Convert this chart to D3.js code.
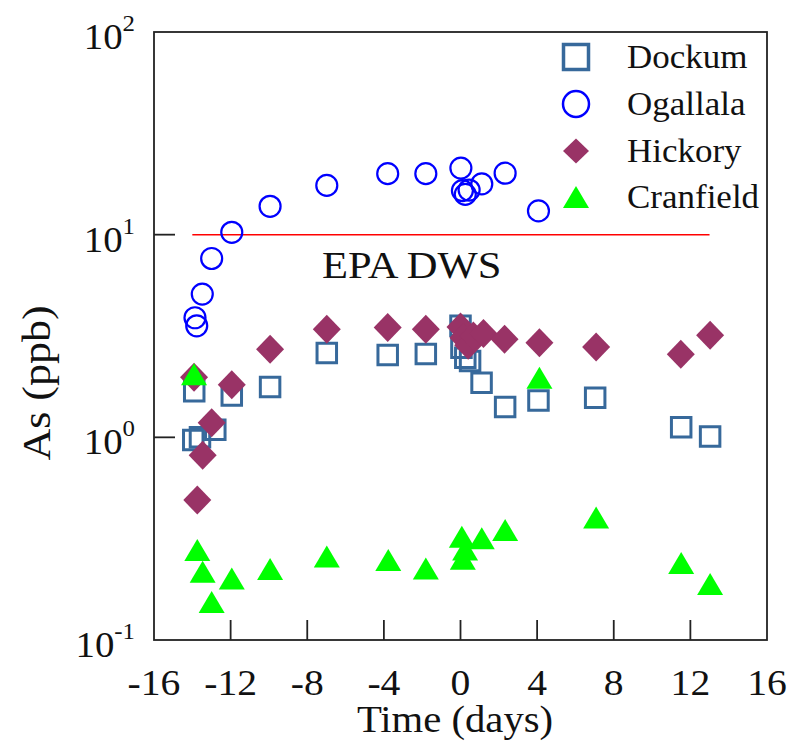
<!DOCTYPE html>
<html>
<head>
<meta charset="utf-8">
<script src="https://cdn.jsdelivr.net/npm/d3@7"></script>
<style>
  html, body { margin: 0; padding: 0; background: #fff; }
  svg text { font-family: "Liberation Serif", "Times New Roman", serif; fill: #111; }
</style>
</head>
<body>
<svg id="chart" width="787" height="749"></svg>
<script>
// ---- data ----
const seriesNames = ["Dockum", "Ogallala", "Hickory", "Cranfield"];

const dockumT = [-13.9, -13.95, -13.6, -12.8, -11.94, -9.94, -6.98, -3.8, -1.81, 0.0, 0.05, 0.25, 0.5, 1.1, 2.33, 4.07, 7.03, 11.52, 13.03];
const dockumAs = [1.69, 0.97, 1.0, 1.09, 1.61, 1.77, 2.61, 2.55, 2.58, 3.55, 2.77, 2.47, 2.38, 1.86, 1.41, 1.52, 1.57, 1.12, 1.01];

const ogallalaT = [-13.86, -13.77, -13.48, -12.99, -11.94, -9.94, -6.98, -3.8, -1.81, 0.02, 0.1, 0.25, 0.45, 1.11, 2.33, 4.07];
const ogallalaAs = [3.89, 3.55, 5.09, 7.63, 10.27, 13.8, 17.5, 20.0, 20.0, 21.3, 16.5, 15.8, 16.6, 17.8, 20.1, 13.1];

const hickoryT = [-13.91, -13.74, -13.46, -12.99, -11.94, -9.94, -6.98, -3.8, -1.81, 0.0, 0.15, 0.4, 0.67, 1.2, 2.3, 4.12, 7.08, 11.5, 13.03];
const hickoryAs = [1.98, 0.49, 0.815, 1.18, 1.82, 2.72, 3.41, 3.48, 3.41, 3.5, 3.1, 2.85, 3.16, 3.25, 3.05, 2.93, 2.79, 2.57, 3.19];

const cranfieldT = [-13.91, -13.74, -13.46, -12.99, -11.94, -9.94, -6.98, -3.77, -1.81, 0.07, 0.24, 0.12, 1.11, 2.33, 4.12, 7.08, 11.52, 13.03];
const cranfieldAs = [2.05, 0.278, 0.217, 0.154, 0.201, 0.224, 0.258, 0.248, 0.225, 0.323, 0.28, 0.252, 0.318, 0.349, 1.97, 0.402, 0.24, 0.189];

const epaLimit = 10;
const epaRange = [-14, 13];
const epaLabel = "EPA DWS";

const xTicks = [-16, -12, -8, -4, 0, 4, 8, 12, 16];
const yTicks = [0.1, 1, 10, 100];
const yTickExp = ["-1", "0", "1", "2"];
const xTitle = "Time (days)";
const yTitle = "As (ppb)";

// ---- layout ----
const svg = d3.select("#chart");
const L = 154, R = 767, T = 32, B = 640;
const x = d3.scaleLinear().domain([-16, 16]).range([L, R]);
const y = d3.scaleLog().domain([0.1, 100]).range([B, T]);

function stretchText(g, px, py, str, size, anchor, sx) {
  return g.append("text")
    .attr("transform", `translate(${px},${py}) scale(${sx},1)`)
    .attr("text-anchor", anchor)
    .attr("font-size", size)
    .text(str);
}

// EPA line
svg.append("line")
  .attr("x1", x(epaRange[0])).attr("x2", x(epaRange[1]))
  .attr("y1", y(epaLimit)).attr("y2", y(epaLimit))
  .attr("stroke", "#ff0000").attr("stroke-width", 1.5);
stretchText(svg, x(-2.55), y(epaLimit) + 43, epaLabel, 38, "middle", 1.12);

// ---- marks ----
const sqColor = "#37699b", cirColor = "#0000ff", diaColor = "#993366", triColor = "#00ff00";

function squarePath(s) { const h = s / 2; return `M${-h},${-h}H${h}V${h}H${-h}Z`; }
function diamondPath(w, h) { return `M0,${-h/2}L${w/2},0L0,${h/2}L${-w/2},0Z`; }
function trianglePath(w, h) { return `M0,${-h/2}L${w/2},${h/2}L${-w/2},${h/2}Z`; }

const plot = svg.append("g");

plot.append("g").selectAll("path")
  .data(d3.zip(dockumT, dockumAs)).join("path")
  .attr("transform", d => `translate(${x(d[0])},${y(d[1])})`)
  .attr("d", squarePath(19.5))
  .attr("fill", "none").attr("stroke", sqColor).attr("stroke-width", 3);

plot.append("g").selectAll("circle")
  .data(d3.zip(ogallalaT, ogallalaAs)).join("circle")
  .attr("cx", d => x(d[0])).attr("cy", d => y(d[1])).attr("r", 10.5)
  .attr("fill", "none").attr("stroke", cirColor).attr("stroke-width", 2.2);

plot.append("g").selectAll("path")
  .data(d3.zip(hickoryT, hickoryAs)).join("path")
  .attr("transform", d => `translate(${x(d[0])},${y(d[1])})`)
  .attr("d", diamondPath(28, 29))
  .attr("fill", diaColor);

plot.append("g").selectAll("path")
  .data(d3.zip(cranfieldT, cranfieldAs)).join("path")
  .attr("transform", d => `translate(${x(d[0])},${y(d[1])})`)
  .attr("d", trianglePath(26, 22))
  .attr("fill", triColor);

// ---- frame & ticks ----
svg.append("rect")
  .attr("x", L).attr("y", T).attr("width", R - L).attr("height", B - T)
  .attr("fill", "none").attr("stroke", "#222").attr("stroke-width", 1.8);

svg.append("g").selectAll("line")
  .data(xTicks.slice(1, -1)).join("line")
  .attr("x1", d => x(d)).attr("x2", d => x(d))
  .attr("y1", B).attr("y2", B - 20)
  .attr("stroke", "#222").attr("stroke-width", 1.8);

svg.append("g").selectAll("line")
  .data(yTicks.slice(1, -1)).join("line")
  .attr("x1", L).attr("x2", L + 21)
  .attr("y1", d => y(d)).attr("y2", d => y(d))
  .attr("stroke", "#222").attr("stroke-width", 1.8);

// x tick labels
xTicks.forEach(t => stretchText(svg, x(t), 695, String(t), 36, "middle", 1.1));

// y tick labels with superscripts
yTicks.forEach((t, i) => {
  const tx = svg.append("text")
    .attr("transform", `translate(135,${y(t) + 17}) scale(1.08,1)`)
    .attr("text-anchor", "end")
    .attr("font-size", 36);
  tx.append("tspan").text("10");
  tx.append("tspan").attr("dy", -18).attr("font-size", 23).text(yTickExp[i]);
});

// axis titles
stretchText(svg, 455, 732, xTitle, 37, "middle", 1.1);
svg.append("text")
  .attr("transform", `translate(50,383) rotate(-90) scale(1.1,1)`)
  .attr("text-anchor", "middle").attr("font-size", 40)
  .text(yTitle);

// ---- legend ----
const legY = [57, 104, 151, 197];
const lg = svg.append("g");
const lx = 576;
lg.append("path").attr("transform", `translate(${lx},${legY[0]})`).attr("d", squarePath(25))
  .attr("fill", "none").attr("stroke", sqColor).attr("stroke-width", 3.5);
lg.append("circle").attr("cx", lx).attr("cy", legY[1]).attr("r", 13)
  .attr("fill", "none").attr("stroke", cirColor).attr("stroke-width", 2.5);
lg.append("path").attr("transform", `translate(${lx},${legY[2]})`).attr("d", diamondPath(26, 25))
  .attr("fill", diaColor);
lg.append("path").attr("transform", `translate(${lx},${legY[3]})`).attr("d", trianglePath(26, 22))
  .attr("fill", triColor);
seriesNames.forEach((n, i) => stretchText(lg, 627, legY[i] + 11, n, 33, "start", 1.06));
</script>
</body>
</html>
